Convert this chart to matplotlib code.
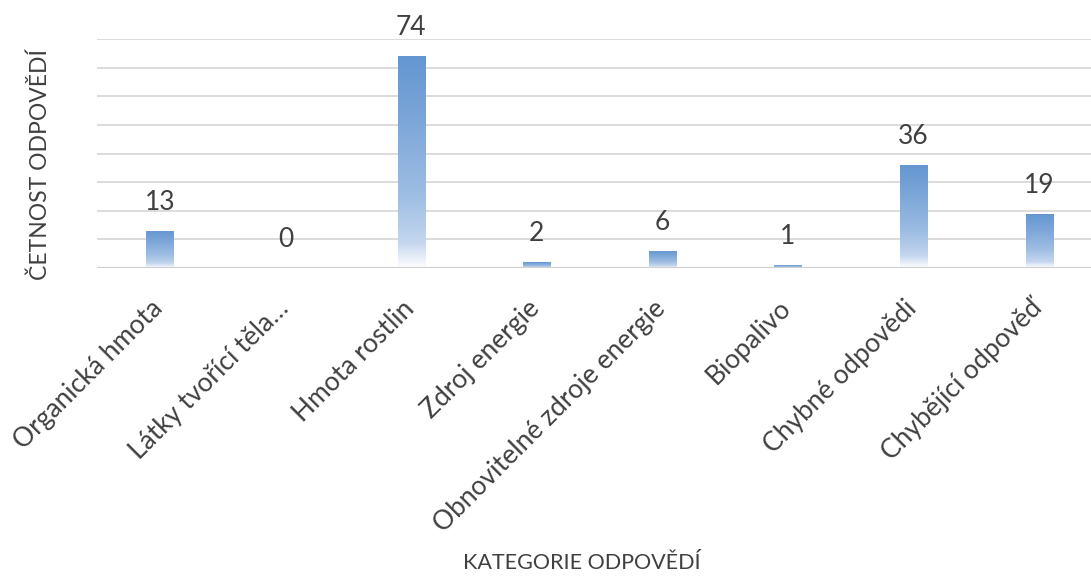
import numpy as np
import matplotlib
matplotlib.use("Agg")
import matplotlib.pyplot as plt
import matplotlib.transforms as mtransforms
from matplotlib.colors import LinearSegmentedColormap

categories = ["Organická hmota", "Látky tvořící těla…", "Hmota rostlin", "Zdroj energie",
              "Obnovitelné zdroje energie", "Biopalivo", "Chybné odpovědi", "Chybějící odpověď"]
values = [13, 0, 74, 2, 6, 1, 36, 19]

plt.rcParams['font.family'] = ['Lato', 'DejaVu Sans']
TEXT = "#404040"

W, H = 1091, 576
fig = plt.figure(figsize=(W / 100, H / 100), dpi=100)
ax = fig.add_axes([97 / W, (H - 268) / H, 1005 / W, (268 - 39) / H])

x = np.arange(len(categories))
bw = 0.215
ax.set_xlim(-0.5, len(categories) - 0.5)
ax.set_ylim(0, 80)

cmap = LinearSegmentedColormap.from_list(
    "grad", [(0.0, "#ffffff"), (0.12, "#c3d6ee"), (0.35, "#9dbde3"),
             (0.7, "#7ca6d8"), (1.0, "#6496d1")])
grad = np.linspace(0, 1, 256).reshape(-1, 1)

bars = ax.bar(x, values, width=bw, color="none", edgecolor="none", zorder=3)
for b, v in zip(bars, values):
    if v <= 0:
        continue
    x0 = b.get_x()
    im = ax.imshow(grad, cmap=cmap, origin="lower", aspect="auto",
                   extent=(x0, x0 + bw, 0, v), zorder=3, interpolation="bicubic")
    im.set_clip_path(b)

for xi, v in zip(x, values):
    ax.annotate(str(v), (xi, v), xytext=(0, 15), textcoords="offset points",
                ha="center", va="baseline", fontsize=19, color=TEXT)

for yv in range(10, 90, 10):
    ax.axhline(yv, color="#d9d9d9", lw=1.3, zorder=1)
ax.axhline(0, color="#d0d0d0", lw=1.6, zorder=4)

for s in ax.spines.values():
    s.set_visible(False)
ax.set_yticks([])
ax.set_xticks(x)
ax.set_xticklabels(categories, rotation=45, ha="right", rotation_mode="anchor",
                   fontsize=19, color=TEXT)
ax.tick_params(axis="x", length=0, pad=30)
shift = mtransforms.ScaledTranslation(-10 / 100, 14 / 100, fig.dpi_scale_trans)
for lab in ax.get_xticklabels():
    lab.set_transform(lab.get_transform() + shift)

fig.text(40 / W, 1 - 164 / H, "ČETNOST ODPOVĚDÍ", rotation=90, ha="center", va="center",
         fontsize=16.5, color=TEXT)
fig.text(582 / W, 1 - 563 / H, "KATEGORIE ODPOVĚDÍ", ha="center", va="center",
         fontsize=15.5, color=TEXT)

fig.savefig("out.png", dpi=100, facecolor="white")
